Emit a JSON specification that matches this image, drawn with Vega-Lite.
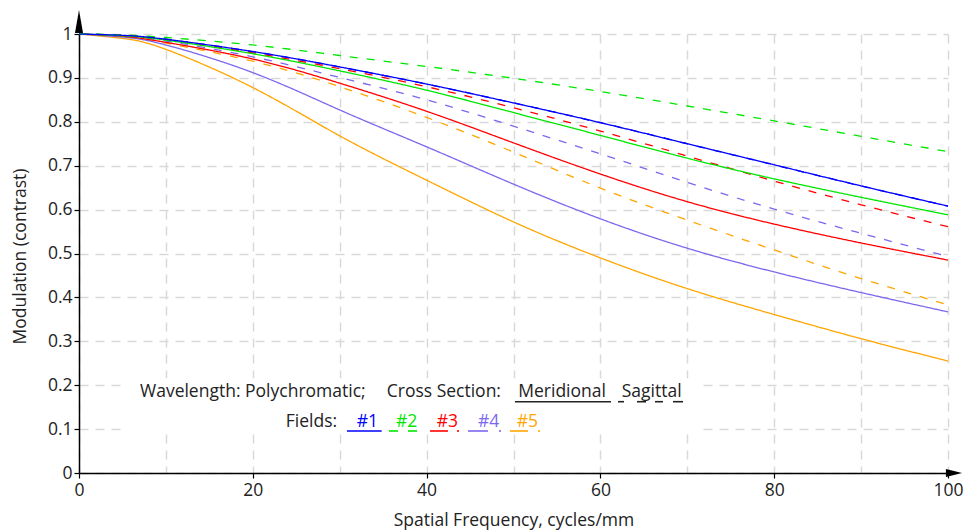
{
  "$schema": "https://vega.github.io/schema/vega-lite/v6.json",
  "width": 869,
  "height": 439,
  "autosize": {"type": "none"},
  "padding": {"left": 79, "top": 34, "right": 18, "bottom": 58},
  "background": "white",
  "config": {"view": {"stroke": null}, "font": "Open Sans"},
  "datasets": {
    "mtf": [
      {"freq": 0, "mod": 1, "field": "#1", "section": "Sagittal"},
      {"freq": 5, "mod": 0.997, "field": "#1", "section": "Sagittal"},
      {"freq": 10, "mod": 0.988, "field": "#1", "section": "Sagittal"},
      {"freq": 20, "mod": 0.96, "field": "#1", "section": "Sagittal"},
      {"freq": 30, "mod": 0.925, "field": "#1", "section": "Sagittal"},
      {"freq": 40, "mod": 0.886, "field": "#1", "section": "Sagittal"},
      {"freq": 50, "mod": 0.843, "field": "#1", "section": "Sagittal"},
      {"freq": 60, "mod": 0.798, "field": "#1", "section": "Sagittal"},
      {"freq": 70, "mod": 0.75, "field": "#1", "section": "Sagittal"},
      {"freq": 80, "mod": 0.702, "field": "#1", "section": "Sagittal"},
      {"freq": 90, "mod": 0.654, "field": "#1", "section": "Sagittal"},
      {"freq": 100, "mod": 0.608, "field": "#1", "section": "Sagittal"},

      {"freq": 0, "mod": 1, "field": "#5", "section": "Sagittal"},
      {"freq": 5, "mod": 0.995, "field": "#5", "section": "Sagittal"},
      {"freq": 10, "mod": 0.979, "field": "#5", "section": "Sagittal"},
      {"freq": 20, "mod": 0.938, "field": "#5", "section": "Sagittal"},
      {"freq": 30, "mod": 0.88, "field": "#5", "section": "Sagittal"},
      {"freq": 40, "mod": 0.81, "field": "#5", "section": "Sagittal"},
      {"freq": 50, "mod": 0.731, "field": "#5", "section": "Sagittal"},
      {"freq": 60, "mod": 0.649, "field": "#5", "section": "Sagittal"},
      {"freq": 70, "mod": 0.576, "field": "#5", "section": "Sagittal"},
      {"freq": 80, "mod": 0.508, "field": "#5", "section": "Sagittal"},
      {"freq": 90, "mod": 0.443, "field": "#5", "section": "Sagittal"},
      {"freq": 100, "mod": 0.383, "field": "#5", "section": "Sagittal"},

      {"freq": 0, "mod": 1, "field": "#5", "section": "Meridional"},
      {"freq": 5, "mod": 0.99, "field": "#5", "section": "Meridional"},
      {"freq": 10, "mod": 0.965, "field": "#5", "section": "Meridional"},
      {"freq": 20, "mod": 0.878, "field": "#5", "section": "Meridional"},
      {"freq": 30, "mod": 0.768, "field": "#5", "section": "Meridional"},
      {"freq": 40, "mod": 0.667, "field": "#5", "section": "Meridional"},
      {"freq": 50, "mod": 0.572, "field": "#5", "section": "Meridional"},
      {"freq": 60, "mod": 0.49, "field": "#5", "section": "Meridional"},
      {"freq": 70, "mod": 0.42, "field": "#5", "section": "Meridional"},
      {"freq": 80, "mod": 0.361, "field": "#5", "section": "Meridional"},
      {"freq": 90, "mod": 0.306, "field": "#5", "section": "Meridional"},
      {"freq": 100, "mod": 0.255, "field": "#5", "section": "Meridional"},

      {"freq": 0, "mod": 1, "field": "#4", "section": "Sagittal"},
      {"freq": 5, "mod": 0.996, "field": "#4", "section": "Sagittal"},
      {"freq": 10, "mod": 0.984, "field": "#4", "section": "Sagittal"},
      {"freq": 20, "mod": 0.948, "field": "#4", "section": "Sagittal"},
      {"freq": 30, "mod": 0.901, "field": "#4", "section": "Sagittal"},
      {"freq": 40, "mod": 0.85, "field": "#4", "section": "Sagittal"},
      {"freq": 50, "mod": 0.79, "field": "#4", "section": "Sagittal"},
      {"freq": 60, "mod": 0.727, "field": "#4", "section": "Sagittal"},
      {"freq": 70, "mod": 0.662, "field": "#4", "section": "Sagittal"},
      {"freq": 80, "mod": 0.601, "field": "#4", "section": "Sagittal"},
      {"freq": 90, "mod": 0.546, "field": "#4", "section": "Sagittal"},
      {"freq": 100, "mod": 0.493, "field": "#4", "section": "Sagittal"},

      {"freq": 0, "mod": 1, "field": "#4", "section": "Meridional"},
      {"freq": 5, "mod": 0.993, "field": "#4", "section": "Meridional"},
      {"freq": 10, "mod": 0.975, "field": "#4", "section": "Meridional"},
      {"freq": 20, "mod": 0.912, "field": "#4", "section": "Meridional"},
      {"freq": 30, "mod": 0.827, "field": "#4", "section": "Meridional"},
      {"freq": 40, "mod": 0.743, "field": "#4", "section": "Meridional"},
      {"freq": 50, "mod": 0.658, "field": "#4", "section": "Meridional"},
      {"freq": 60, "mod": 0.579, "field": "#4", "section": "Meridional"},
      {"freq": 70, "mod": 0.512, "field": "#4", "section": "Meridional"},
      {"freq": 80, "mod": 0.458, "field": "#4", "section": "Meridional"},
      {"freq": 90, "mod": 0.411, "field": "#4", "section": "Meridional"},
      {"freq": 100, "mod": 0.367, "field": "#4", "section": "Meridional"},

      {"freq": 0, "mod": 1, "field": "#3", "section": "Sagittal"},
      {"freq": 5, "mod": 0.997, "field": "#3", "section": "Sagittal"},
      {"freq": 10, "mod": 0.987, "field": "#3", "section": "Sagittal"},
      {"freq": 20, "mod": 0.957, "field": "#3", "section": "Sagittal"},
      {"freq": 30, "mod": 0.921, "field": "#3", "section": "Sagittal"},
      {"freq": 40, "mod": 0.88, "field": "#3", "section": "Sagittal"},
      {"freq": 50, "mod": 0.832, "field": "#3", "section": "Sagittal"},
      {"freq": 60, "mod": 0.779, "field": "#3", "section": "Sagittal"},
      {"freq": 70, "mod": 0.722, "field": "#3", "section": "Sagittal"},
      {"freq": 80, "mod": 0.665, "field": "#3", "section": "Sagittal"},
      {"freq": 90, "mod": 0.611, "field": "#3", "section": "Sagittal"},
      {"freq": 100, "mod": 0.561, "field": "#3", "section": "Sagittal"},

      {"freq": 0, "mod": 1, "field": "#3", "section": "Meridional"},
      {"freq": 5, "mod": 0.995, "field": "#3", "section": "Meridional"},
      {"freq": 10, "mod": 0.981, "field": "#3", "section": "Meridional"},
      {"freq": 20, "mod": 0.943, "field": "#3", "section": "Meridional"},
      {"freq": 30, "mod": 0.888, "field": "#3", "section": "Meridional"},
      {"freq": 40, "mod": 0.824, "field": "#3", "section": "Meridional"},
      {"freq": 50, "mod": 0.752, "field": "#3", "section": "Meridional"},
      {"freq": 60, "mod": 0.681, "field": "#3", "section": "Meridional"},
      {"freq": 70, "mod": 0.618, "field": "#3", "section": "Meridional"},
      {"freq": 80, "mod": 0.567, "field": "#3", "section": "Meridional"},
      {"freq": 90, "mod": 0.524, "field": "#3", "section": "Meridional"},
      {"freq": 100, "mod": 0.485, "field": "#3", "section": "Meridional"},

      {"freq": 0, "mod": 1, "field": "#2", "section": "Sagittal"},
      {"freq": 5, "mod": 0.998, "field": "#2", "section": "Sagittal"},
      {"freq": 10, "mod": 0.992, "field": "#2", "section": "Sagittal"},
      {"freq": 20, "mod": 0.975, "field": "#2", "section": "Sagittal"},
      {"freq": 30, "mod": 0.951, "field": "#2", "section": "Sagittal"},
      {"freq": 40, "mod": 0.926, "field": "#2", "section": "Sagittal"},
      {"freq": 50, "mod": 0.899, "field": "#2", "section": "Sagittal"},
      {"freq": 60, "mod": 0.869, "field": "#2", "section": "Sagittal"},
      {"freq": 70, "mod": 0.836, "field": "#2", "section": "Sagittal"},
      {"freq": 80, "mod": 0.802, "field": "#2", "section": "Sagittal"},
      {"freq": 90, "mod": 0.767, "field": "#2", "section": "Sagittal"},
      {"freq": 100, "mod": 0.732, "field": "#2", "section": "Sagittal"},

      {"freq": 0, "mod": 1, "field": "#2", "section": "Meridional"},
      {"freq": 5, "mod": 0.996, "field": "#2", "section": "Meridional"},
      {"freq": 10, "mod": 0.986, "field": "#2", "section": "Meridional"},
      {"freq": 20, "mod": 0.955, "field": "#2", "section": "Meridional"},
      {"freq": 30, "mod": 0.916, "field": "#2", "section": "Meridional"},
      {"freq": 40, "mod": 0.872, "field": "#2", "section": "Meridional"},
      {"freq": 50, "mod": 0.821, "field": "#2", "section": "Meridional"},
      {"freq": 60, "mod": 0.769, "field": "#2", "section": "Meridional"},
      {"freq": 70, "mod": 0.717, "field": "#2", "section": "Meridional"},
      {"freq": 80, "mod": 0.67, "field": "#2", "section": "Meridional"},
      {"freq": 90, "mod": 0.628, "field": "#2", "section": "Meridional"},
      {"freq": 100, "mod": 0.588, "field": "#2", "section": "Meridional"},

      {"freq": 0, "mod": 1, "field": "#1", "section": "Meridional"},
      {"freq": 5, "mod": 0.997, "field": "#1", "section": "Meridional"},
      {"freq": 10, "mod": 0.988, "field": "#1", "section": "Meridional"},
      {"freq": 20, "mod": 0.96, "field": "#1", "section": "Meridional"},
      {"freq": 30, "mod": 0.925, "field": "#1", "section": "Meridional"},
      {"freq": 40, "mod": 0.886, "field": "#1", "section": "Meridional"},
      {"freq": 50, "mod": 0.843, "field": "#1", "section": "Meridional"},
      {"freq": 60, "mod": 0.798, "field": "#1", "section": "Meridional"},
      {"freq": 70, "mod": 0.75, "field": "#1", "section": "Meridional"},
      {"freq": 80, "mod": 0.702, "field": "#1", "section": "Meridional"},
      {"freq": 90, "mod": 0.654, "field": "#1", "section": "Meridional"},
      {"freq": 100, "mod": 0.608, "field": "#1", "section": "Meridional"}
    ],
    "legendText": [
      {"label": "Wavelength: Polychromatic;", "freq": 7.02, "mod": 0.174, "key": "text"},
      {"label": "Cross Section:", "freq": 35.41, "mod": 0.174, "key": "text"},
      {"label": "Meridional", "freq": 50.55, "mod": 0.174, "key": "text"},
      {"label": "Sagittal", "freq": 62.45, "mod": 0.174, "key": "text"},
      {"label": "Fields:", "freq": 23.79, "mod": 0.1055, "key": "text"},
      {"label": "#1", "freq": 31.96, "mod": 0.1055, "key": "#1"},
      {"label": "#2", "freq": 36.48, "mod": 0.1055, "key": "#2"},
      {"label": "#3", "freq": 41.16, "mod": 0.1055, "key": "#3"},
      {"label": "#4", "freq": 45.91, "mod": 0.1055, "key": "#4"},
      {"label": "#5", "freq": 50.37, "mod": 0.1055, "key": "#5"}
    ],
    "legendLines": [
      {"freq": 50.17, "freq2": 61.22, "mod": 0.1624, "key": "text"},
      {"freq": 62.03, "freq2": 62.72, "mod": 0.1624, "key": "text"},
      {"freq": 64.21, "freq2": 65.25, "mod": 0.1624, "key": "text"},
      {"freq": 66.28, "freq2": 67.2, "mod": 0.1624, "key": "text"},
      {"freq": 68.35, "freq2": 69.51, "mod": 0.1624, "key": "text"},
      {"freq": 30.84, "freq2": 34.83, "mod": 0.0957, "key": "#1"},
      {"freq": 35.67, "freq2": 36.71, "mod": 0.0957, "key": "#2"},
      {"freq": 37.86, "freq2": 38.9, "mod": 0.0957, "key": "#2"},
      {"freq": 40.39, "freq2": 42.46, "mod": 0.0957, "key": "#3"},
      {"freq": 43.5, "freq2": 43.73, "mod": 0.0957, "key": "#3"},
      {"freq": 44.76, "freq2": 47.06, "mod": 0.0957, "key": "#4"},
      {"freq": 48.33, "freq2": 48.56, "mod": 0.0957, "key": "#4"},
      {"freq": 49.6, "freq2": 51.67, "mod": 0.0957, "key": "#5"},
      {"freq": 52.82, "freq2": 53.05, "mod": 0.0957, "key": "#5"}
    ]
  },
  "layer": [
    {
      "data": {"values": [{"freq": 5.5, "freq2": 71.5, "mod": 0.091, "mod2": 0.216}]},
      "mark": {"type": "rect", "color": "white"},
      "encoding": {
        "x": {"field": "freq", "type": "quantitative"},
        "x2": {"field": "freq2"},
        "y": {"field": "mod", "type": "quantitative"},
        "y2": {"field": "mod2"}
      }
    },
    {
      "data": {"name": "mtf"},
      "mark": {"type": "line", "interpolate": "natural", "strokeWidth": 1.3},
      "encoding": {
        "x": {
          "field": "freq", "type": "quantitative",
          "scale": {"domain": [0, 100], "nice": false, "zero": false},
          "axis": {
            "title": "Spatial Frequency, cycles/mm",
            "values": [0, 10, 20, 30, 40, 50, 60, 70, 80, 90, 100],
            "labelExpr": "datum.value % 20 === 0 ? datum.label : ''",
            "labelFlush": false,
            "labelFont": "Open Sans", "labelFontSize": 17.5, "labelColor": "#222", "labelPadding": 3,
            "grid": true, "gridColor": "#d9d9d9", "gridDash": [9, 7], "gridWidth": 1.5,
            "domainColor": "black", "domainWidth": 1.5,
            "tickColor": "black", "tickSize": 5, "tickWidth": 1.2,
            "tickOpacity": {"condition": {"test": "datum.value % 20 !== 0", "value": 0}, "value": 1},
            "titleFont": "Open Sans", "titleFontSize": 17.5, "titleFontWeight": "normal", "titleColor": "#222",
            "titleX": 434.5, "titleY": 47, "titleBaseline": "middle"
          }
        },
        "y": {
          "field": "mod", "type": "quantitative",
          "scale": {"domain": [0, 1], "nice": false},
          "axis": {
            "title": "Modulation (contrast)",
            "values": [0, 0.1, 0.2, 0.3, 0.4, 0.5, 0.6, 0.7, 0.8, 0.9, 1],
            "format": "~g",
            "labelFont": "Open Sans", "labelFontSize": 17.5, "labelColor": "#222", "labelPadding": 2,
            "grid": true, "gridColor": "#d9d9d9", "gridDash": [9, 7], "gridWidth": 1.5,
            "domainColor": "black", "domainWidth": 1.5,
            "tickColor": "black", "tickSize": 5, "tickWidth": 1.2,
            "titleFont": "Open Sans", "titleFontSize": 17.5, "titleFontWeight": "normal", "titleColor": "#222",
            "titleX": -59, "titleY": 222, "titleBaseline": "middle", "titleAngle": -90
          }
        },
        "color": {
          "field": "field", "type": "nominal",
          "scale": {"domain": ["#1", "#2", "#3", "#4", "#5", "text"], "range": ["#0000ff", "#00e600", "#ff0000", "#7b68ee", "#ffa500", "#222222"]},
          "legend": null
        },
        "strokeDash": {
          "field": "section", "type": "nominal",
          "scale": {"domain": ["Meridional", "Sagittal"], "range": [[1, 0], [8, 9]]},
          "legend": null
        }
      }
    },
    {
      "data": {"name": "legendLines"},
      "mark": {"type": "rule", "strokeWidth": 1.6},
      "encoding": {
        "x": {"field": "freq", "type": "quantitative"},
        "x2": {"field": "freq2"},
        "y": {"field": "mod", "type": "quantitative"},
        "color": {"field": "key", "type": "nominal", "legend": null}
      }
    },
    {
      "data": {"name": "legendText"},
      "mark": {"type": "text", "align": "left", "baseline": "alphabetic", "font": "Open Sans", "fontSize": 17.5},
      "encoding": {
        "x": {"field": "freq", "type": "quantitative"},
        "y": {"field": "mod", "type": "quantitative"},
        "text": {"field": "label"},
        "color": {"field": "key", "type": "nominal", "legend": null}
      }
    },
    {
      "data": {"values": [{"freq": 0, "mod": 1.0285}]},
      "mark": {"type": "point", "shape": "M0,-1L0.35,1L-0.35,1Z", "filled": true, "size": 529, "color": "black", "opacity": 1},
      "encoding": {
        "x": {"field": "freq", "type": "quantitative"},
        "y": {"field": "mod", "type": "quantitative"}
      }
    },
    {
      "data": {"values": [{"freq": 100.69, "mod": 0}]},
      "mark": {"type": "point", "shape": "M0.7,0L-0.7,-0.35L-0.7,0.35Z", "filled": true, "size": 529, "color": "black", "opacity": 1},
      "encoding": {
        "x": {"field": "freq", "type": "quantitative"},
        "y": {"field": "mod", "type": "quantitative"}
      }
    }
  ]
}
